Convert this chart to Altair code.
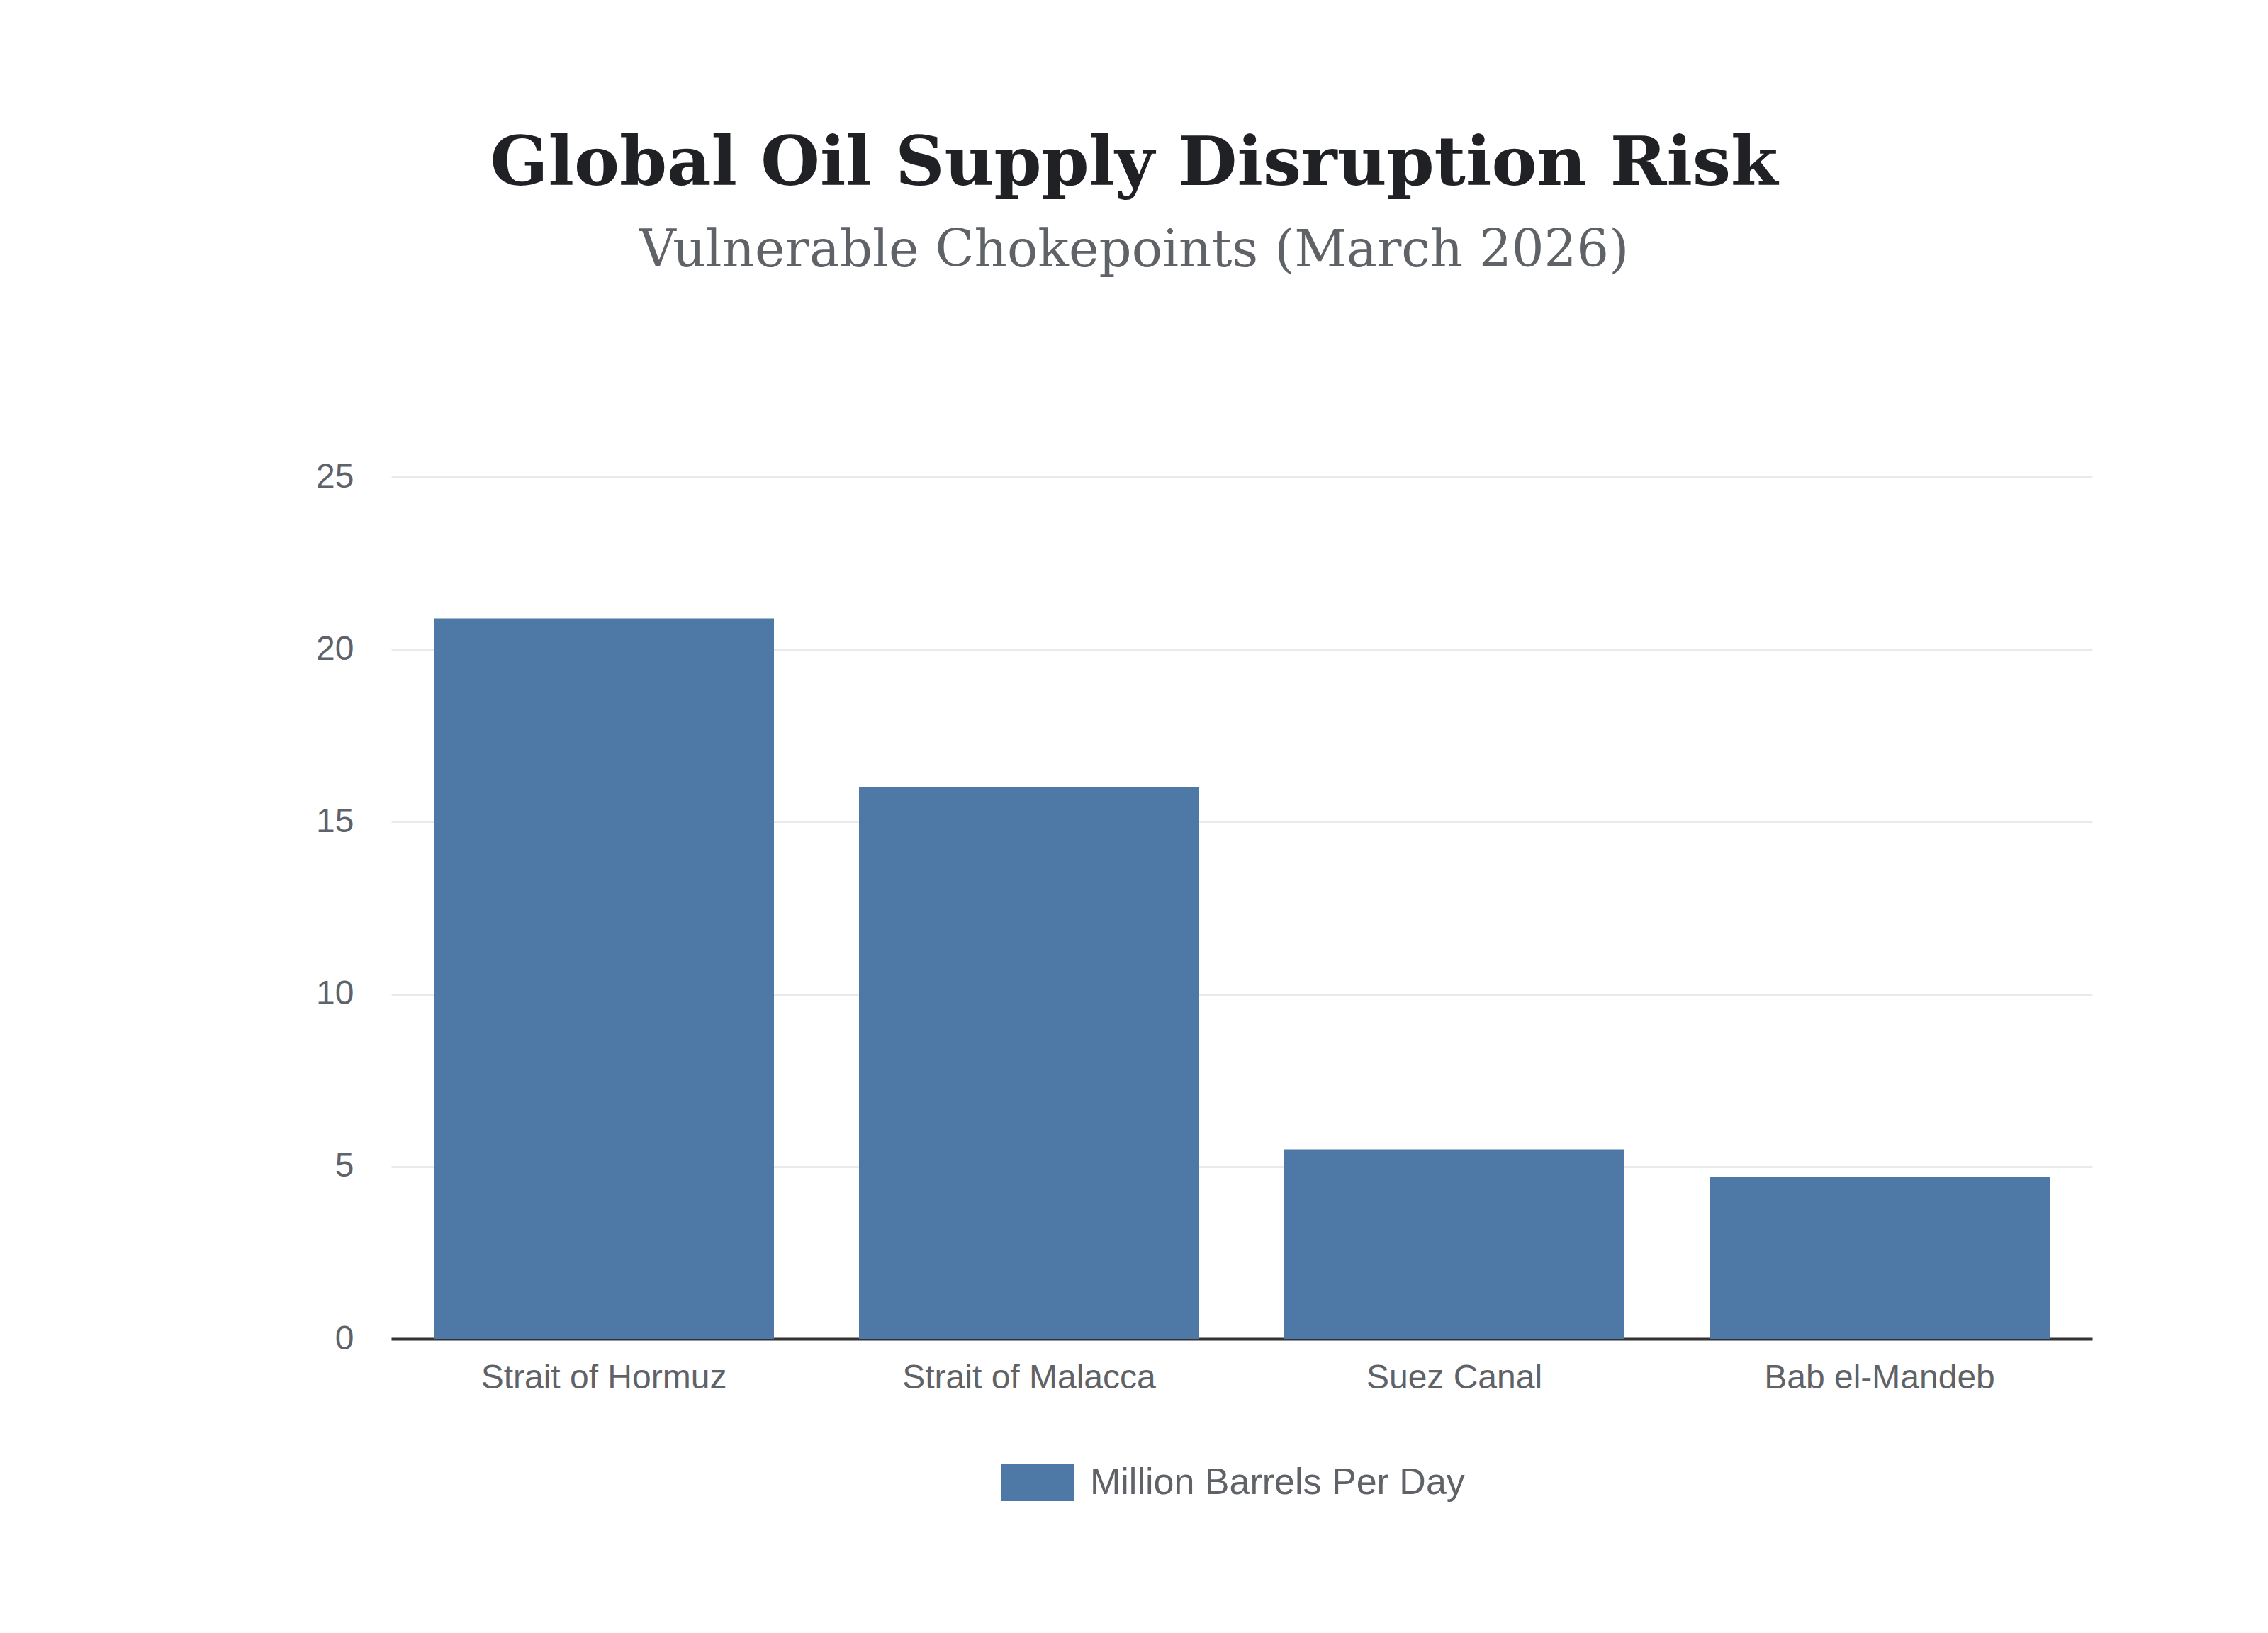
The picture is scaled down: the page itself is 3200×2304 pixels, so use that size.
import altair as alt
import pandas as pd

categories = ["Strait of Hormuz", "Strait of Malacca", "Suez Canal", "Bab el-Mandeb"]
values = [20.9, 16.0, 5.5, 4.7]
series_name = "Million Barrels Per Day"
y_ticks = [0, 5, 10, 15, 20, 25]

df = pd.DataFrame({"chokepoint": categories, "value": values, "series": [series_name] * len(categories)})

label_color = "#5f6368"
sans = "Liberation Sans"
serif = "DejaVu Serif"

chart = (
    alt.Chart(df)
    .mark_bar(color="#4e79a7")
    .encode(
        x=alt.X(
            "chokepoint:N",
            sort=categories,
            title=None,
            scale=alt.Scale(paddingInner=0.2, paddingOuter=0.1),
            axis=alt.Axis(
                labelAngle=0,
                labelFont=sans,
                labelFontSize=48,
                labelColor=label_color,
                labelPadding=31,
                labelLimit=0,
                ticks=False,
                domainColor="#333333",
                domainWidth=4,
                grid=False,
            ),
        ),
        y=alt.Y(
            "value:Q",
            title=None,
            scale=alt.Scale(domain=[0, 25], nice=False),
            axis=alt.Axis(
                values=y_ticks,
                labelFont=sans,
                labelFontSize=48,
                labelColor=label_color,
                labelPadding=53,
                labelLimit=0,
                ticks=False,
                domain=False,
                gridColor="#e8eaed",
                gridWidth=3,
            ),
        ),
        color=alt.Color(
            "series:N",
            scale=alt.Scale(range=["#4e79a7"]),
            legend=alt.Legend(
                title=None,
                orient="none",
                legendX=860,
                legendY=1367,
                padding=0,
                symbolType="M-1,-0.5H1V0.5H-1Z",
                symbolSize=10816,
                symbolStrokeWidth=0,
                symbolOpacity=1,
                labelFont=sans,
                labelFontSize=52,
                labelColor=label_color,
                labelOffset=22,
                labelLimit=0,
            ),
        ),
    )
    .properties(
        width=2400,
        height=1216,
        autosize=alt.AutoSizeParams(type="none"),
        padding={"left": 544, "top": 665, "right": 236, "bottom": 400},
        title=alt.TitleParams(
            text="Global Oil Supply Disruption Risk",
            subtitle="Vulnerable Chokepoints (March 2026)",
            anchor="middle",
            frame="group",
            dx=-152,
            font=serif,
            fontSize=96,
            fontWeight="bold",
            color="#202124",
            subtitleFont=serif,
            subtitleFontSize=72,
            subtitleColor=label_color,
            subtitlePadding=38,
            offset=258,
        ),
    )
    .configure(background="white")
    .configure_view(stroke="transparent", strokeWidth=0)
)

chart.save("out.html", embed_options={"renderer": "svg", "actions": False})
